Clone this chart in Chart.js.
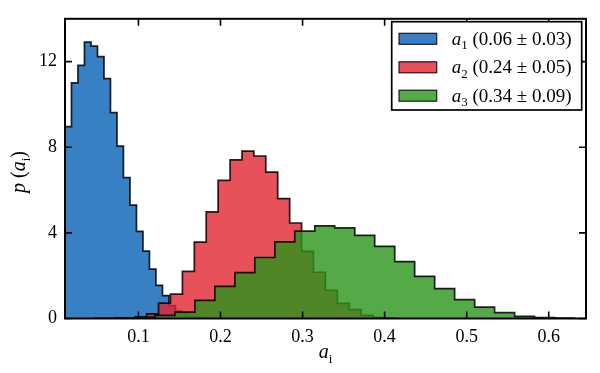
<!DOCTYPE html>
<html><head><meta charset="utf-8">
<script src="https://cdn.jsdelivr.net/npm/chart.js@4.4.1/dist/chart.umd.min.js"></script>
<style>html,body{margin:0;padding:0;background:#fff;}#wrap{width:600px;height:373px;}</style>
</head><body><div id="wrap"><canvas id="c" width="600" height="373"></canvas></div>
<script>
// Bin edges (data units) and densities
const blueEdges = [0.0105,0.0184,0.0263,0.0342,0.0422,0.0501,0.0580,0.0659,0.0738,0.0817,0.0897,0.0976,0.1055,0.1134,0.1213,0.1293,0.1372,0.1451,0.1530,0.1609,0.1688,0.1768,0.1847];
const blueHeights = [8.96,11.01,11.82,12.91,12.72,12.23,11.21,9.62,8.05,6.58,5.30,4.07,3.15,2.31,1.55,1.07,0.60,0.35,0.20,0.10,0.05,0.03];

const redEdges = [0.0955,0.1100,0.1245,0.1390,0.1536,0.1681,0.1826,0.1971,0.2117,0.2262,0.2407,0.2552,0.2697,0.2843,0.2988,0.3133,0.3278,0.3424,0.3569,0.3714,0.3859,0.4004,0.4150];
const redHeights = [0.05,0.22,0.72,1.14,2.20,3.57,4.98,6.45,7.41,7.82,7.59,6.84,5.60,4.46,3.14,2.16,1.32,0.71,0.41,0.15,0.05,0.03];

const greenEdges = [0.0470,0.0714,0.0957,0.1201,0.1444,0.1688,0.1931,0.2175,0.2418,0.2662,0.2905,0.3149,0.3392,0.3636,0.3879,0.4123,0.4366,0.4610,0.4853,0.5097,0.5340,0.5584,0.5827,0.6071,0.6314];
const greenHeights = [0.01,0.03,0.07,0.15,0.30,0.85,1.50,2.14,2.85,3.58,4.08,4.33,4.23,3.88,3.37,2.66,1.97,1.40,0.88,0.53,0.27,0.10,0.04,0.02];

const seriesNames = ['1','2','3'];
const seriesStats = ['(0.06 ± 0.03)','(0.24 ± 0.05)','(0.34 ± 0.09)'];
const xTicks = [0.1,0.2,0.3,0.4,0.5,0.6];
const yTicks = [0,4,8,12];
const xRange = [0.0105,0.6454];
const yRange = [0,14];

const fills = ['rgba(5,96,180,0.8)','rgba(226,36,49,0.8)','rgba(42,149,26,0.8)'];
const edge = 'rgba(0,0,0,0.85)';
const SERIF = '"Liberation Serif","DejaVu Serif",serif';

function stepPoints(edges, heights){
  const pts=[{x:edges[0],y:0}];
  heights.forEach((h,i)=>pts.push({x:edges[i],y:h}));
  pts.push({x:edges[edges.length-1],y:0});
  return pts;
}
function ds(label, edges, heights, i, order){
  return {label, data:stepPoints(edges,heights), stepped:'before', fill:'origin',
    backgroundColor:fills[i], borderColor:edge, borderWidth:1.7, pointRadius:0, tension:0, order};
}

function drawMath(ctx, x, y, parts){
  let cx=x;
  parts.forEach(([t,st,size])=>{
    if(st==='i'){ctx.font='italic '+size+'px '+SERIF; ctx.fillText(t,cx,y);}
    else if(st==='s'){ctx.font=size+'px '+SERIF; ctx.fillText(t,cx,y+size*0.35);}
    else {ctx.font=size+'px '+SERIF; ctx.fillText(t,cx,y);}
    cx+=ctx.measureText(t).width;
  });
  return cx-x;
}
function measureMath(ctx, parts){
  let w=0;
  parts.forEach(([t,st,s])=>{ctx.font=(st==='i'?'italic ':'')+s+'px '+SERIF; w+=ctx.measureText(t).width;});
  return w;
}

const decor = {
  id:'decor',
  afterDraw(chart){
    const ctx=chart.ctx, a=chart.chartArea, xs=chart.scales.x, ys=chart.scales.y;
    ctx.save();
    ctx.strokeStyle='#000'; ctx.lineWidth=1.6;
    ctx.beginPath();
    xTicks.forEach(v=>{const p=xs.getPixelForValue(v);
      ctx.moveTo(p,a.bottom); ctx.lineTo(p,a.bottom-7);
      ctx.moveTo(p,a.top); ctx.lineTo(p,a.top+7);});
    yTicks.forEach(v=>{const p=ys.getPixelForValue(v);
      ctx.moveTo(a.left,p); ctx.lineTo(a.left+7,p);
      ctx.moveTo(a.right,p); ctx.lineTo(a.right-7,p);});
    ctx.stroke();
    ctx.lineWidth=2;
    ctx.strokeRect(a.left,a.top,a.right-a.left,a.bottom-a.top);

    // legend
    const lx=391.7, ly=21.7, lw=190, lh=88.3;
    ctx.fillStyle='#fff'; ctx.fillRect(lx,ly,lw,lh);
    ctx.lineWidth=1.7; ctx.strokeStyle='#000'; ctx.strokeRect(lx,ly,lw,lh);
    const rows=[38.8,67.3,95.7];
    rows.forEach((cy,i)=>{
      ctx.fillStyle=fills[i]; ctx.fillRect(399,cy-5.5,37.7,11);
      ctx.strokeStyle=edge; ctx.lineWidth=1.2; ctx.strokeRect(399,cy-5.5,37.7,11);
      ctx.fillStyle='#000'; ctx.textBaseline='alphabetic'; ctx.textAlign='left';
      drawMath(ctx,451.7,cy+6,[['a','i',19],[seriesNames[i],'s',13],[' '+seriesStats[i],'n',19]]);
    });

    // axis titles
    ctx.fillStyle='#000'; ctx.textAlign='left'; ctx.textBaseline='alphabetic';
    const xl=[['a','i',20],['i','s',13]];
    drawMath(ctx,(a.left+a.right)/2 - measureMath(ctx,xl)/2, 358, xl);
    ctx.translate(25,172);
    ctx.rotate(-Math.PI/2);
    const parts=[['p','i',20],[' (','n',20],['a','i',20],['i','s',13],[')','n',20]];
    drawMath(ctx,-measureMath(ctx,parts)/2,0,parts);
    ctx.restore();
  }
};

new Chart(document.getElementById('c'),{
  type:'line',
  data:{datasets:[
    ds('a1',blueEdges,blueHeights,0,2),
    ds('a2',redEdges,redHeights,1,1),
    ds('a3',greenEdges,greenHeights,2,0)
  ]},
  options:{
    responsive:false, animation:false, devicePixelRatio:1,
    layout:{padding:{top:12,right:14,left:0,bottom:0}},
    plugins:{legend:{display:false},tooltip:{enabled:false}},
    scales:{
      x:{type:'linear',min:xRange[0],max:xRange[1],
        grid:{display:false,drawTicks:false},border:{display:false},
        ticks:{color:'#000',font:{family:SERIF,size:18},padding:8,maxRotation:0,
          callback:v=>v.toFixed(1)},
        afterBuildTicks:s=>{s.ticks=xTicks.map(v=>({value:v}));},
        afterFit:s=>{s.height=54.5;}},
      y:{type:'linear',min:yRange[0],max:yRange[1],
        grid:{display:false,drawTicks:false},border:{display:false},
        ticks:{color:'#000',font:{family:SERIF,size:18},padding:8,callback:v=>String(v)},
        afterBuildTicks:s=>{s.ticks=yTicks.map(v=>({value:v}));},
        afterFit:s=>{s.width=65;}}
    }
  },
  plugins:[decor]
});
</script></body></html>
